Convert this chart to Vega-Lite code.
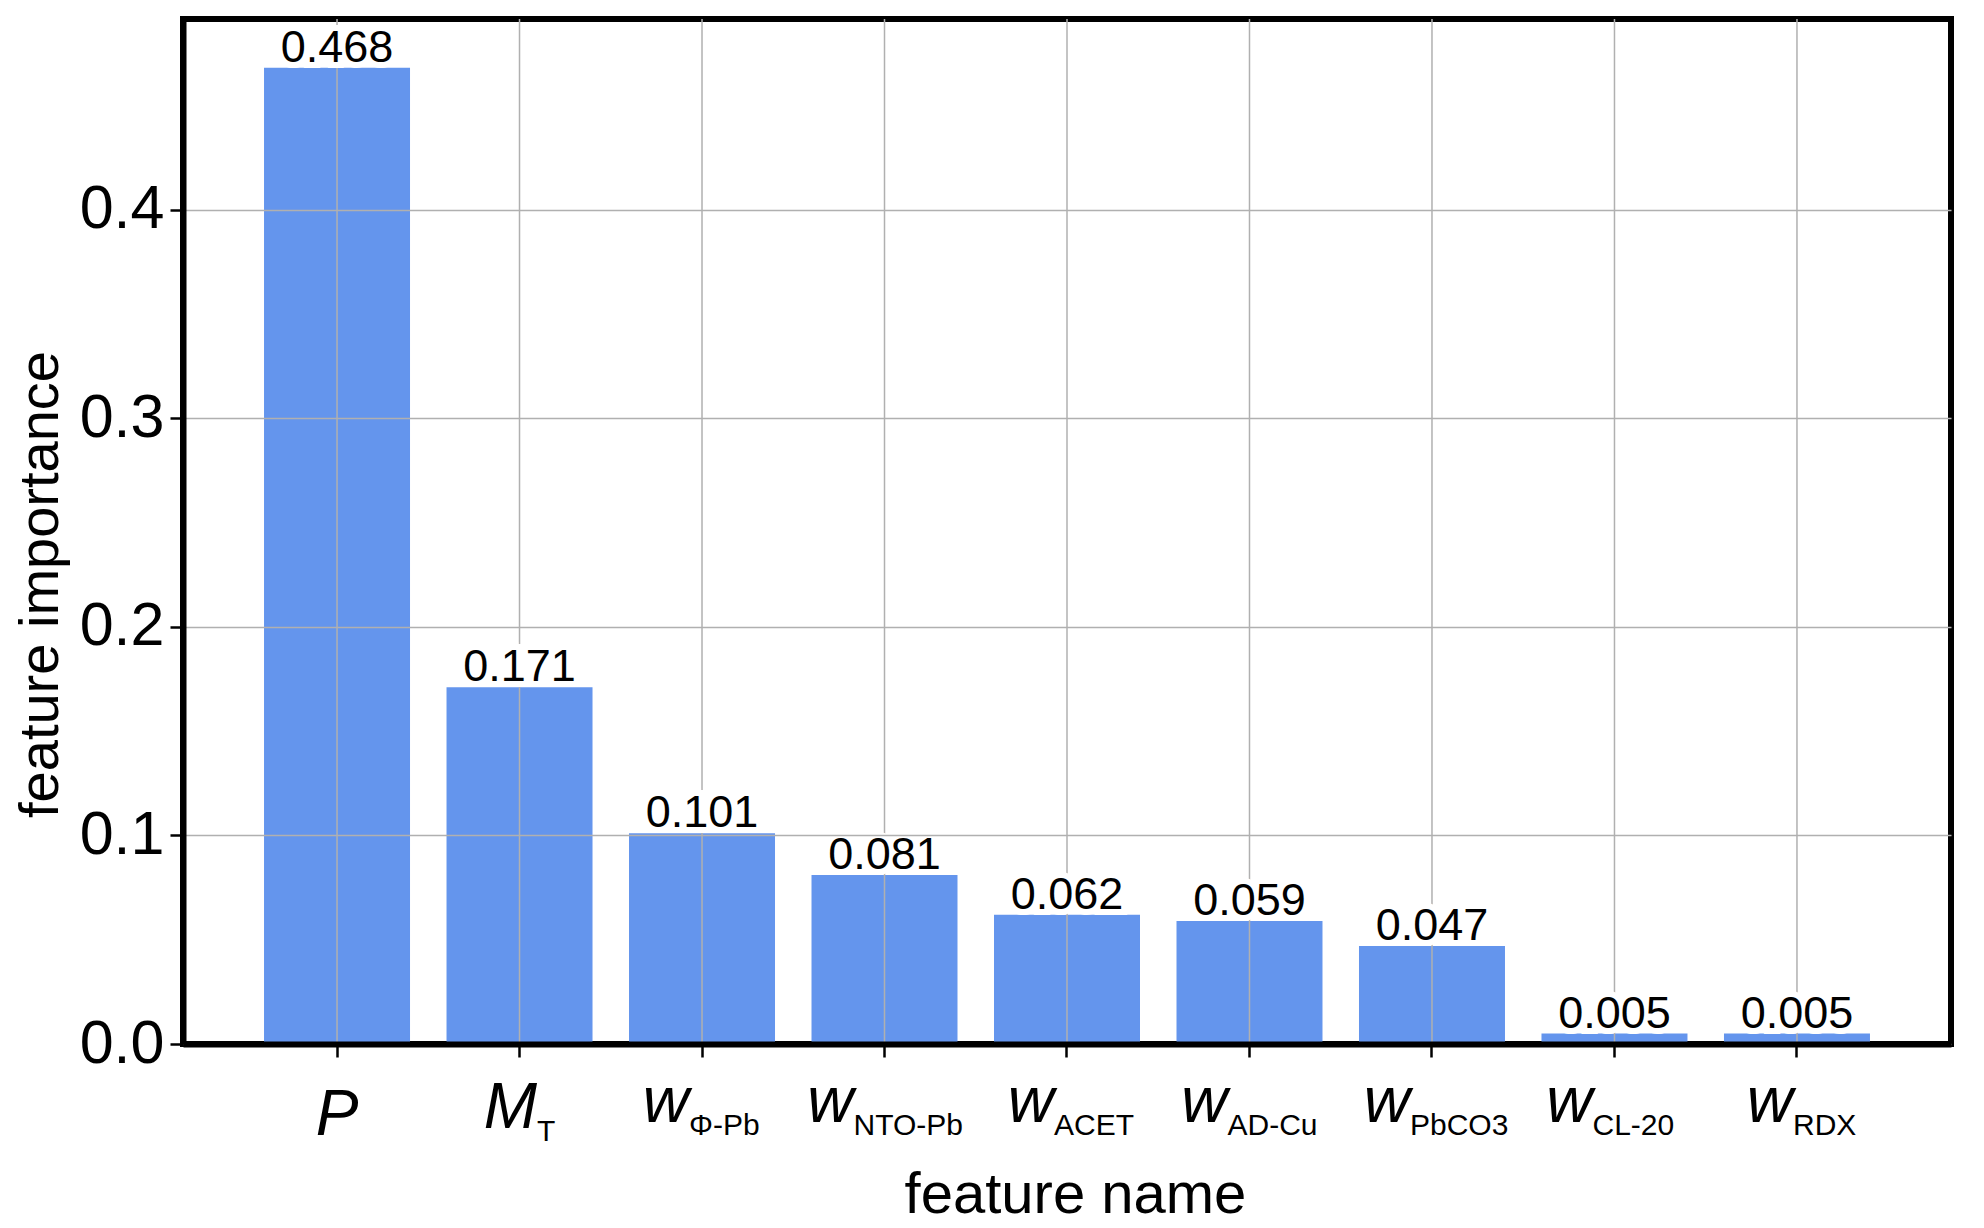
{
  "$schema": "https://vega.github.io/schema/vega-lite/v6.json",
  "width": 1768,
  "height": 1025,
  "autosize": "none",
  "padding": {"left": 183, "top": 19, "right": 33, "bottom": 184},
  "background": "white",
  "config": {
    "font": "Liberation Sans",
    "view": {"stroke": "black", "strokeWidth": 6}
  },
  "data": {
    "values": [
      {"feature": "P", "sym": "P", "sub": "", "value": 0.468},
      {"feature": "M_T", "sym": "M", "sub": "T", "value": 0.171},
      {"feature": "w_Φ-Pb", "sym": "w", "sub": "Φ-Pb", "value": 0.101},
      {"feature": "w_NTO-Pb", "sym": "w", "sub": "NTO-Pb", "value": 0.081},
      {"feature": "w_ACET", "sym": "w", "sub": "ACET", "value": 0.062},
      {"feature": "w_AD-Cu", "sym": "w", "sub": "AD-Cu", "value": 0.059},
      {"feature": "w_PbCO3", "sym": "w", "sub": "PbCO3", "value": 0.047},
      {"feature": "w_CL-20", "sym": "w", "sub": "CL-20", "value": 0.005},
      {"feature": "w_RDX", "sym": "w", "sub": "RDX", "value": 0.005}
    ]
  },
  "encoding": {
    "x": {
      "field": "feature",
      "type": "nominal",
      "sort": null,
      "scale": {"paddingInner": 0.2, "paddingOuter": 0.444},
      "axis": {
        "title": "feature name",
        "titleFont": "Liberation Sans",
        "titleFontSize": 58,
        "titleFontWeight": "normal",
        "titleColor": "black",
        "titleBaseline": "alphabetic",
        "titleX": 892,
        "titleY": 168,
        "labels": false,
        "grid": false,
        "bandPosition": 0.5,
        "ticks": true,
        "tickSize": 13,
        "tickWidth": 2.5,
        "tickColor": "black",
        "domainColor": "black",
        "domainWidth": 6,
        "zindex": 1
      }
    },
    "y": {
      "field": "value",
      "type": "quantitative",
      "scale": {"domain": [0, 0.4914], "nice": false},
      "axis": {
        "title": "feature importance",
        "titleFont": "Liberation Sans",
        "titleFontSize": 56,
        "titleFontWeight": "normal",
        "titleColor": "black",
        "titleBaseline": "alphabetic",
        "titleAngle": 270,
        "titleX": -126,
        "titleY": 565,
        "values": [0, 0.1, 0.2, 0.3, 0.4],
        "format": ".1f",
        "labelFont": "Liberation Sans",
        "labelFontSize": 61,
        "labelColor": "black",
        "labelPadding": 6,
        "tickSize": 13,
        "tickWidth": 2.5,
        "tickColor": "black",
        "grid": true,
        "gridColor": "#b0b0b0",
        "gridWidth": 1.5,
        "domainColor": "black",
        "domainWidth": 6,
        "zindex": 1
      }
    }
  },
  "layer": [
    {"mark": {"type": "bar", "color": "#6495ED"}},
    {
      "mark": {"type": "rule", "color": "#b0b0b0", "strokeWidth": 1.5},
      "encoding": {"y": null}
    },
    {
      "mark": {"type": "text", "baseline": "alphabetic", "dy": -6, "fontSize": 45, "color": "white", "stroke": "white", "strokeWidth": 12},
      "encoding": {"text": {"field": "value", "format": ".3f"}}
    },
    {
      "mark": {"type": "text", "baseline": "alphabetic", "dy": -6, "fontSize": 45, "color": "black"},
      "encoding": {"text": {"field": "value", "format": ".3f"}}
    },
    {
      "mark": {
        "type": "text",
        "align": "right",
        "baseline": "alphabetic",
        "fontSize": 64,
        "fontStyle": "italic",
        "color": "black",
        "dx": {"expr": "(datum.sym == 'w' ? 46 : datum.sym == 'M' ? 53 : 43) / 2 - length(datum.sub) * 9"},
        "dy": {"expr": "datum.sym == 'w' ? 78 : datum.sym == 'M' ? 84 : 91"}
      },
      "encoding": {
        "y": {
          "datum": 0,
          "type": "quantitative",
          "axis": {
            "title": "feature importance",
            "titleFont": "Liberation Sans",
            "titleFontSize": 56,
            "titleFontWeight": "normal",
            "titleColor": "black",
            "titleBaseline": "alphabetic",
            "titleAngle": 270,
            "titleX": -126,
            "titleY": 565,
            "values": [0, 0.1, 0.2, 0.3, 0.4],
            "format": ".1f",
            "labelFont": "Liberation Sans",
            "labelFontSize": 61,
            "labelColor": "black",
            "labelPadding": 6,
            "tickSize": 13,
            "tickWidth": 2.5,
            "tickColor": "black",
            "grid": true,
            "gridColor": "#b0b0b0",
            "gridWidth": 1.5,
            "domainColor": "black",
            "domainWidth": 6,
            "zindex": 1
          }
        },
        "text": {"field": "sym"}
      }
    },
    {
      "mark": {
        "type": "text",
        "align": "left",
        "baseline": "alphabetic",
        "fontSize": 30,
        "color": "black",
        "dx": {"expr": "(datum.sym == 'w' ? 46 : datum.sym == 'M' ? 53 : 43) / 2 - length(datum.sub) * 9"},
        "dy": {"expr": "datum.sym == 'M' ? 97 : 91"}
      },
      "encoding": {
        "y": {
          "datum": 0,
          "type": "quantitative",
          "axis": {
            "title": "feature importance",
            "titleFont": "Liberation Sans",
            "titleFontSize": 56,
            "titleFontWeight": "normal",
            "titleColor": "black",
            "titleBaseline": "alphabetic",
            "titleAngle": 270,
            "titleX": -126,
            "titleY": 565,
            "values": [0, 0.1, 0.2, 0.3, 0.4],
            "format": ".1f",
            "labelFont": "Liberation Sans",
            "labelFontSize": 61,
            "labelColor": "black",
            "labelPadding": 6,
            "tickSize": 13,
            "tickWidth": 2.5,
            "tickColor": "black",
            "grid": true,
            "gridColor": "#b0b0b0",
            "gridWidth": 1.5,
            "domainColor": "black",
            "domainWidth": 6,
            "zindex": 1
          }
        },
        "text": {"field": "sub"}
      }
    }
  ]
}
